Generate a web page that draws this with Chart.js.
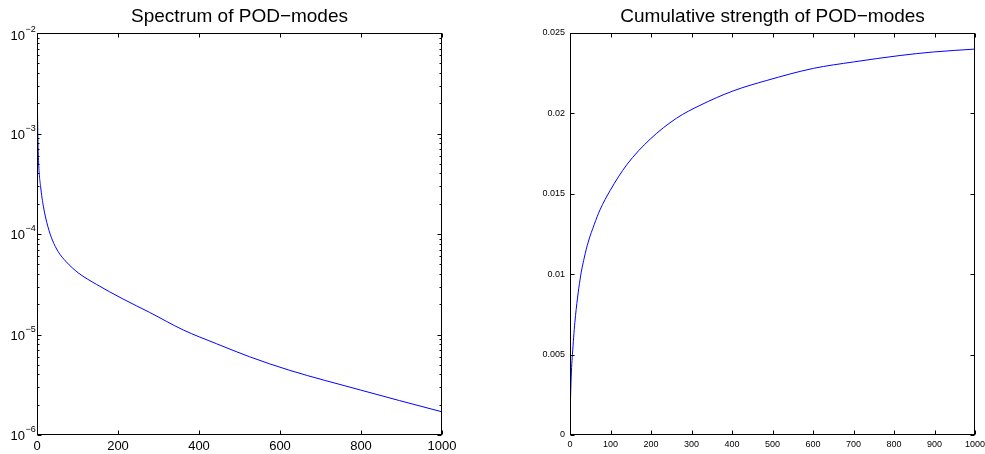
<!DOCTYPE html>
<html>
<head>
<meta charset="utf-8">
<script src="https://cdn.jsdelivr.net/npm/chart.js@4.4.1/dist/chart.umd.min.js"></script>
<style>
body { margin: 0; background: #fff; }
#wrap { position: relative; width: 985px; height: 454px; }
canvas { position: absolute; top: 0; }
</style>
</head>
<body>
<div id="wrap">
  <canvas id="specChart" width="492" height="454" style="left:0"></canvas>
  <canvas id="cumChart" width="493" height="454" style="left:492px"></canvas>
</div>
<script>
// values
const specModes = [1, 2, 4, 9, 16, 27, 38, 52, 72, 102, 147, 212, 278, 361, 443, 525, 624, 799, 895, 1000];
const specValues = [1.95e-3, 1.0e-3, 5.1e-4, 2.95e-4, 1.86e-4, 1.18e-4, 8.7e-5, 6.7e-5, 5.3e-5, 4.1e-5,
                    3.15e-5, 2.26e-5, 1.66e-5, 1.11e-5, 8.1e-6, 6.0e-6, 4.4e-6, 2.8e-6, 2.2e-6, 1.7e-6];

const cumModes = [1, 2, 4, 6, 12, 25, 35, 45, 60, 74, 99, 140, 198, 263, 321, 403, 486, 601, 700, 815, 897, 1000];
const cumValues = [0.00195, 0.0029, 0.0042, 0.0050, 0.0070, 0.0097, 0.0110, 0.0120, 0.0131, 0.0140, 0.0152,
                   0.0168, 0.0184, 0.0197, 0.0205, 0.0214, 0.02205, 0.0228, 0.0232, 0.0236, 0.02382, 0.0240];

const specXTicks = [0, 200, 400, 600, 800, 1000];
const specYExponents = [-6, -5, -4, -3, -2];
const cumXTicks = [0, 100, 200, 300, 400, 500, 600, 700, 800, 900, 1000];
const cumYTicks = [0, 0.005, 0.01, 0.015, 0.02, 0.025];
const cumYLabels = ['0', '0.005', '0.01', '0.015', '0.02', '0.025'];

const FONT = '"Liberation Sans", Arial, Helvetica, sans-serif';

// matlab style: box, inward ticks on all sides, title over the axes
const matlabBox = {
  id: 'matlabBox',
  afterDraw(chart, args, opts) {
    const ctx = chart.ctx;
    const a = chart.chartArea;
    const xs = chart.scales.x, ys = chart.scales.y;
    const L = Math.round(a.left) + 0.5, R = Math.round(a.right) - 0.5;
    const T = Math.round(a.top) + 0.5, B = Math.round(a.bottom) - 0.5;
    ctx.save();
    ctx.strokeStyle = '#000';
    ctx.lineWidth = 1;
    ctx.beginPath();
    opts.xTicks.forEach(v => {
      const px = Math.round(xs.getPixelForValue(v)) + 0.5;
      ctx.moveTo(px, B); ctx.lineTo(px, B - 4);
      ctx.moveTo(px, T); ctx.lineTo(px, T + 4);
    });
    opts.yTicks.forEach(v => {
      const py = Math.round(ys.getPixelForValue(v)) + 0.5;
      ctx.moveTo(L, py); ctx.lineTo(L + 4, py);
      ctx.moveTo(R, py); ctx.lineTo(R - 4, py);
    });
    (opts.yMinor || []).forEach(v => {
      const py = Math.round(ys.getPixelForValue(v)) + 0.5;
      ctx.moveTo(L, py); ctx.lineTo(L + 2, py);
      ctx.moveTo(R, py); ctx.lineTo(R - 2, py);
    });
    ctx.stroke();
    ctx.strokeRect(L, T, R - L, B - T);

    ctx.fillStyle = '#000';
    ctx.font = '19px ' + FONT;
    ctx.textAlign = 'center';
    ctx.textBaseline = 'alphabetic';
    ctx.fillText(opts.title, (a.left + a.right) / 2, 22);

    if (opts.exponents) {
      opts.exponents.forEach(k => {
        let py = ys.getPixelForValue(Math.pow(10, k));
        if (py < a.top + 3) py += 2; // top label sits a bit lower
        ctx.font = '13px ' + FONT;
        ctx.textAlign = 'right';
        ctx.fillText('10', 25, py + 5);
        ctx.font = '9px ' + FONT;
        ctx.textAlign = 'left';
        ctx.fillText('\u2212' + Math.abs(k), 25.5, py - 3);
      });
    }
    ctx.restore();
  }
};

function fixWidth(w) {
  return function (scale) {
    scale.width = w;
    scale.paddingTop = 0; scale.paddingBottom = 0;
    scale.paddingLeft = 0; scale.paddingRight = 0;
  };
}
function fixHeight(h) {
  return function (scale) {
    scale.height = h;
    scale.paddingTop = 0; scale.paddingBottom = 0;
    scale.paddingLeft = 0; scale.paddingRight = 0;
  };
}

const specMinor = [];
specYExponents.slice(0, -1).forEach(k => {
  for (let m = 2; m <= 9; m++) specMinor.push(m * Math.pow(10, k));
});

// Spectrum of POD-modes
new Chart(document.getElementById('specChart'), {
  type: 'line',
  data: {
    datasets: [{
      data: specModes.map((n, i) => ({ x: n, y: specValues[i] })),
      borderColor: '#0000ff',
      borderWidth: 1,
      pointRadius: 0,
      cubicInterpolationMode: 'monotone',
      fill: false
    }]
  },
  options: {
    responsive: false,
    animation: false,
    layout: { padding: { top: 33, right: 50, bottom: 0, left: 0 } },
    plugins: {
      legend: { display: false },
      tooltip: { enabled: false },
      matlabBox: {
        title: 'Spectrum of POD\u2212modes',
        xTicks: specXTicks,
        yTicks: specYExponents.map(k => Math.pow(10, k)),
        yMinor: specMinor,
        exponents: specYExponents
      }
    },
    scales: {
      x: {
        type: 'linear', min: 0, max: 1000,
        grid: { display: false, drawTicks: false },
        border: { display: false },
        afterBuildTicks: s => { s.ticks = specXTicks.map(v => ({ value: v })); },
        afterFit: fixHeight(19),
        ticks: { callback: v => String(v), color: '#000', padding: 4, maxRotation: 0,
                 font: { family: FONT, size: 13 } }
      },
      y: {
        type: 'logarithmic', min: 1e-6, max: 1e-2,
        grid: { display: false, drawTicks: false },
        border: { display: false },
        afterFit: fixWidth(37),
        ticks: { display: false }
      }
    }
  },
  plugins: [matlabBox]
});

// Cumulative strength of POD-modes
new Chart(document.getElementById('cumChart'), {
  type: 'line',
  data: {
    datasets: [{
      data: cumModes.map((n, i) => ({ x: n, y: cumValues[i] })),
      borderColor: '#0000ff',
      borderWidth: 1,
      pointRadius: 0,
      cubicInterpolationMode: 'monotone',
      fill: false
    }]
  },
  options: {
    responsive: false,
    animation: false,
    layout: { padding: { top: 33, right: 10, bottom: 0, left: 0 } },
    plugins: {
      legend: { display: false },
      tooltip: { enabled: false },
      matlabBox: {
        title: 'Cumulative strength of POD\u2212modes',
        xTicks: cumXTicks,
        yTicks: cumYTicks
      }
    },
    scales: {
      x: {
        type: 'linear', min: 0, max: 1000,
        grid: { display: false, drawTicks: false },
        border: { display: false },
        afterBuildTicks: s => { s.ticks = cumXTicks.map(v => ({ value: v })); },
        afterFit: fixHeight(19),
        ticks: { callback: v => String(v), color: '#000', padding: 4, maxRotation: 0,
                 font: { family: FONT, size: 9 } }
      },
      y: {
        type: 'linear', min: 0, max: 0.025,
        grid: { display: false, drawTicks: false },
        border: { display: false },
        afterBuildTicks: s => { s.ticks = cumYTicks.map(v => ({ value: v })); },
        afterFit: fixWidth(78),
        ticks: { callback: (v, i) => cumYLabels[i], color: '#000', padding: 5,
                 font: { family: FONT, size: 9 } }
      }
    }
  },
  plugins: [matlabBox]
});
</script>
</body>
</html>
